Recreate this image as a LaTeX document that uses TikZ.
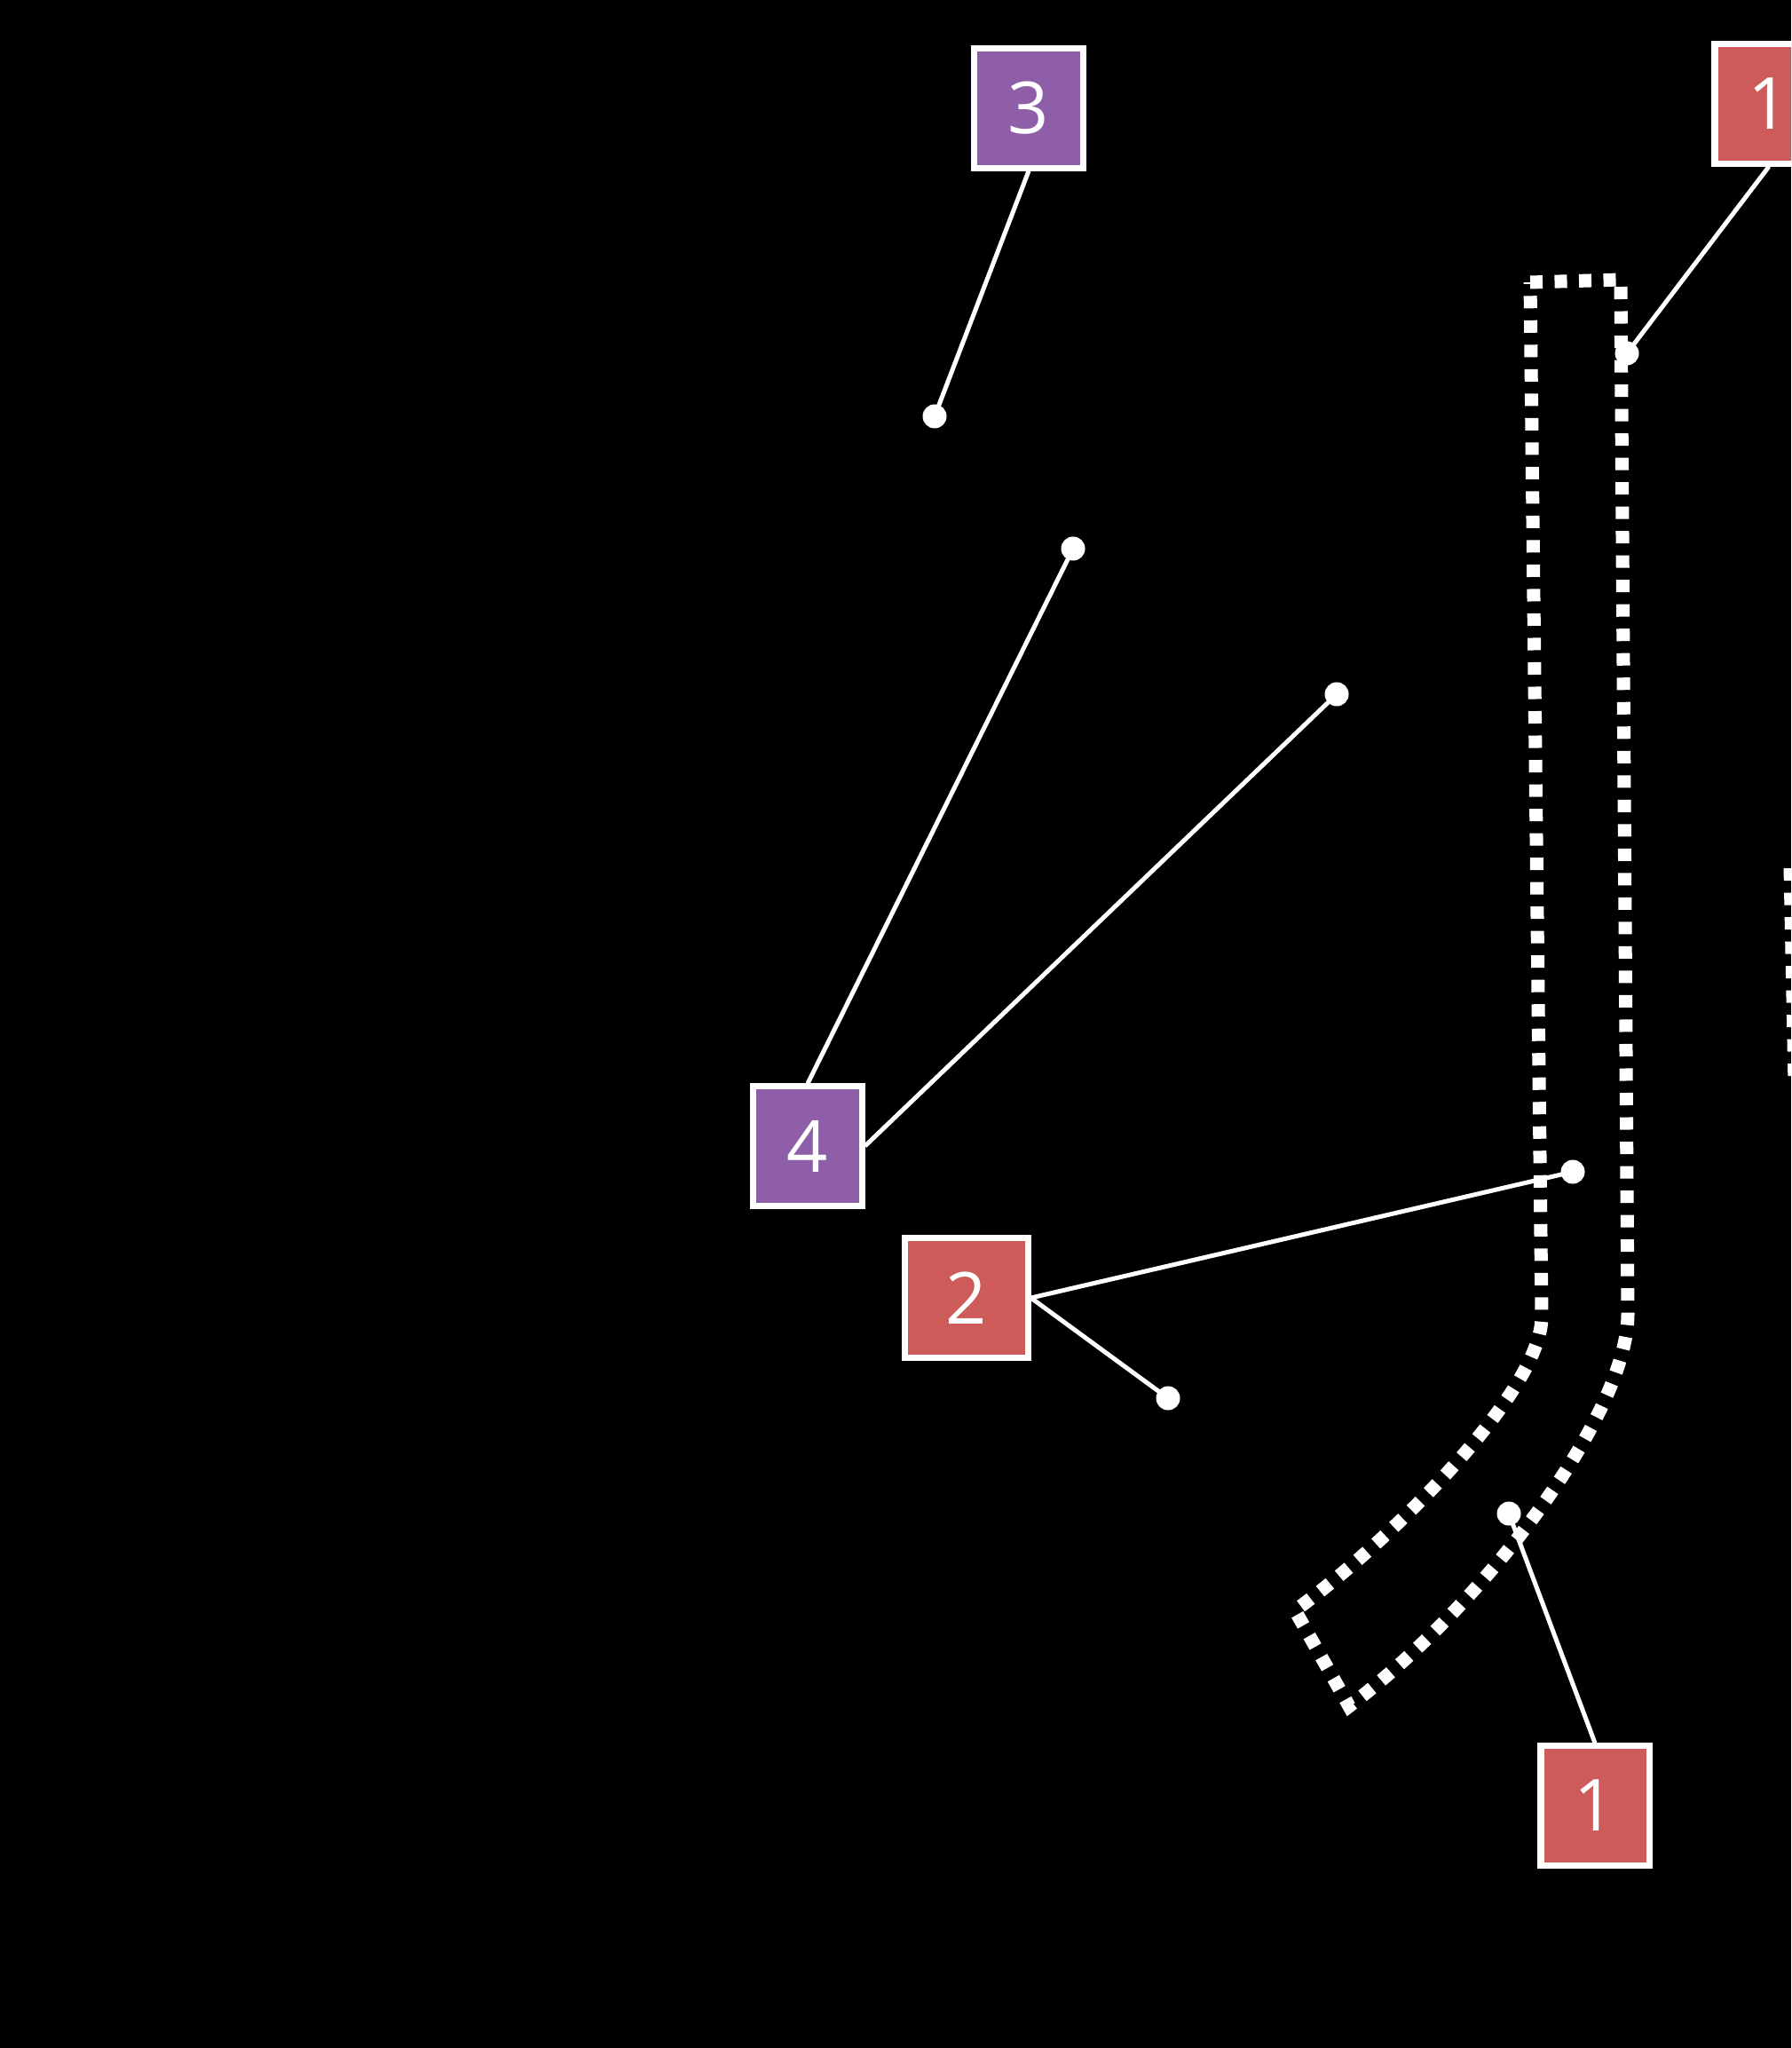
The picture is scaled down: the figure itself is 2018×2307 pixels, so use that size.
\documentclass[tikz,border=0pt]{standalone}
\usepackage{fontspec}
\setmainfont{Open Sans}
\definecolor{tagred}{RGB}{205,91,89}
\definecolor{tagpurple}{RGB}{142,94,168}
\begin{document}
\begin{tikzpicture}[x=0.01cm,y=-0.01cm,
  tag/.style={draw=white, line width=0.07cm, minimum width=1.22cm, minimum height=1.34cm, inner sep=0pt, text=white, font=\fontsize{23}{23}\selectfont},
  redtag/.style={tag, fill=tagred},
  purtag/.style={tag, fill=tagpurple},
  conn/.style={draw=white, line width=0.05cm},
  dot/.style={circle, fill=white, minimum size=0.27cm, inner sep=0pt},
  outline/.style={draw=white, line width=0.15cm, dash pattern=on 0.14cm off 0.135cm}]
\fill[black] (0,0) rectangle (2018,2307);
\useasboundingbox (0,0) rectangle (2018,2307);
\begin{scope}
\clip (0,0) rectangle (2018,2307);
% dotted outlines
\draw[outline] (1724,318) -- (1826,315) -- (1834,1480)
  .. controls (1834,1590) and (1680,1800) .. (1520,1922)
  -- (1459,1814)
  .. controls (1555,1745) and (1737,1570) .. (1737,1483)
  -- cycle;
\draw[outline] (2017,978) -- (2022,1222);
% tags
\node[purtag] (b3) at (1159,122) {3};
\node[purtag] (b4) at (910,1291) {4};
\node[redtag, minimum width=1.38cm] (b2) at (1089,1462) {2};
\node[redtag] (b1a) at (1993,117) {1};
\node[redtag] (b1b) at (1797,2034) {1};
% dots
\node[dot] (d3) at (1053,469) {};
\node[dot] (d1a) at (1833,398) {};
\node[dot] (d4a) at (1209,618) {};
\node[dot] (d4b) at (1506,782) {};
\node[dot] (d2a) at (1772,1320) {};
\node[dot] (d2b) at (1316,1575) {};
\node[dot] (d1b) at (1700,1705) {};
% connectors
\draw[conn] (b3.south) -- (d3.center);
\draw[conn] (b1a.south) -- (d1a.center);
\draw[conn] (b4.north) -- (d4a.center);
\draw[conn] (b4.east) -- (d4b.center);
\draw[conn] (b2.east) -- (d2a.center);
\draw[conn] (b2.east) -- (d2b.center);
\draw[conn] (b1b.north) -- (d1b.center);
\end{scope}
\end{tikzpicture}
\end{document}
